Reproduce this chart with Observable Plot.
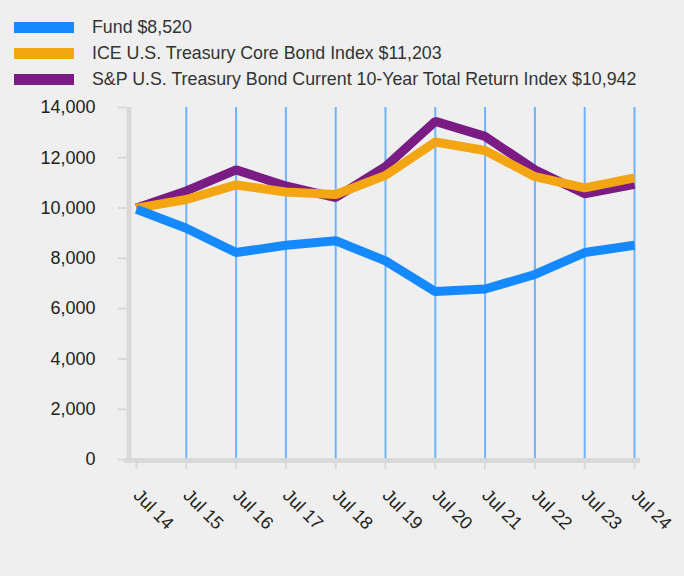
<!DOCTYPE html>
<html>
<head>
<meta charset="utf-8">
<script src="https://cdn.jsdelivr.net/npm/d3@7"></script>
<script src="https://cdn.jsdelivr.net/npm/@observablehq/plot@0.6"></script>
<style>
  html, body { margin: 0; padding: 0; background: #efefef; }
  #legend { height: 92px; box-sizing: border-box; padding-top: 15px; font-family: "Liberation Sans", Arial, sans-serif; font-size: 17.8px; color: #333; }
  .item { display: flex; align-items: center; height: 25.7px; }
  .sw { width: 60px; height: 11px; margin-left: 14px; margin-right: 18px; }
</style>
</head>
<body>
<div id="legend"></div>
<div id="chart"></div>
<script>
const labels = ["Jul 14","Jul 15","Jul 16","Jul 17","Jul 18","Jul 19","Jul 20","Jul 21","Jul 22","Jul 23","Jul 24"];
const fund = [9950, 9200, 8230, 8520, 8700, 7900, 6680, 6780, 7360, 8230, 8520];
const ice  = [10000, 10340, 10920, 10640, 10540, 11300, 12630, 12290, 11250, 10800, 11203];
const sp   = [10000, 10680, 11520, 10880, 10420, 11650, 13450, 12850, 11520, 10570, 10942];
const seriesNames = ["Fund $8,520", "ICE U.S. Treasury Core Bond Index $11,203", "S&P U.S. Treasury Bond Current 10-Year Total Return Index $10,942"];
const seriesColors = ["#1589ff", "#f4a512", "#7b1c84"];
const yTicks = [0, 2000, 4000, 6000, 8000, 10000, 12000, 14000];

const legend = document.getElementById("legend");
seriesNames.forEach((n, i) => {
  const d = document.createElement("div"); d.className = "item";
  const s = document.createElement("div"); s.className = "sw"; s.style.background = seriesColors[i];
  const t = document.createElement("span"); t.textContent = n;
  d.appendChild(s); d.appendChild(t); legend.appendChild(d);
});

const toRows = (vals, k) => vals.map((v, i) => ({i, v, k}));
const data = [...toRows(sp, 2), ...toRows(ice, 1), ...toRows(fund, 0)];
const idx = labels.map((_, i) => i);

const chart = Plot.plot({
  width: 684,
  height: 484,
  marginTop: 15,
  marginBottom: 117,
  marginLeft: 136,
  marginRight: 50,
  style: {background: "#efefef", fontFamily: "'Liberation Sans', Arial, sans-serif", fontSize: "18px", color: "#222"},
  x: {type: "linear", domain: [0, labels.length - 1]},
  y: {domain: [0, 14000]},
  marks: [
    Plot.ruleX(idx.slice(1), {stroke: "#6db3ff", strokeWidth: 2}),
    Plot.ruleX([0], {stroke: "#d9d9d9", strokeWidth: 5, dx: -7.5, insetBottom: -4}),
    Plot.ruleY([0], {stroke: "#d9d9d9", strokeWidth: 5, dy: 1, insetLeft: -12, insetRight: -6}),
    Plot.axisY({ticks: yTicks, tickFormat: d3.format(","), tickSize: 8, dx: -10, tickPadding: 23, stroke: "#d9d9d9", strokeWidth: 2, label: null}),
    Plot.axisX({ticks: idx, tickFormat: i => labels[i], tickSize: 6, dy: 4, tickPadding: 23, tickRotate: 45, stroke: "#d9d9d9", strokeWidth: 2, label: null}),
    Plot.line(data, {x: "i", y: "v", z: "k", stroke: d => seriesColors[d.k], strokeWidth: 9, strokeLinecap: "butt", strokeLinejoin: "miter"})
  ]
});
document.getElementById("chart").appendChild(chart);
</script>
</body>
</html>
